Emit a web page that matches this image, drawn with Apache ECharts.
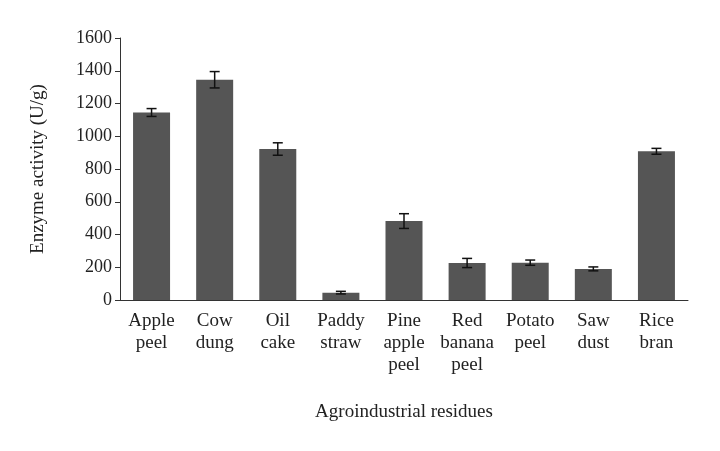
<!DOCTYPE html><html><head><meta charset="utf-8">
<script src="https://cdn.jsdelivr.net/npm/echarts@6/dist/echarts.min.js"></script>
<style>html,body{margin:0;background:#fff}#c{width:720px;height:451px}</style></head><body><div id="c"></div>
<script>
const categories=["Apple\npeel","Cow\ndung","Oil\ncake","Paddy\nstraw","Pine\napple\npeel","Red\nbanana\npeel","Potato\npeel","Saw\ndust","Rice\nbran"];
const values=[1145,1345,922,45,482,226,228,190,908];
const errors=[24,50,38,8,45,28,16,12,18];
const yTicks=[0,200,400,600,800,1000,1200,1400,1600];
const F="Liberation Serif";
const chart=echarts.init(document.getElementById('c'));
chart.setOption({
 animation:false,
 grid:{left:120,right:32,top:38,bottom:151},
 xAxis:{type:'category',data:categories,name:'Agroindustrial residues',nameLocation:'middle',nameGap:103,
  nameTextStyle:{fontFamily:F,fontSize:19,color:'#222'},
  axisLine:{lineStyle:{color:'#333'}},axisTick:{show:false},
  axisLabel:{fontFamily:F,fontSize:19,color:'#222',lineHeight:22,interval:0,margin:10}},
 yAxis:{type:'value',min:0,max:1600,interval:200,name:'Enzyme activity (U/g)',nameLocation:'middle',nameGap:72,
  nameTextStyle:{fontFamily:F,fontSize:19,color:'#222'},
  axisLine:{show:true,lineStyle:{color:'#333'}},axisTick:{show:true,length:5,lineStyle:{color:'#333'}},splitLine:{show:false},
  axisLabel:{fontFamily:F,fontSize:18,color:'#222',formatter:v=>yTicks.includes(v)?String(v):''}},
 series:[
  {type:'bar',data:values,barWidth:37,itemStyle:{color:'#555555'}},
  {type:'custom',data:values.map((v,i)=>[i,v-errors[i],v+errors[i]]),z:10,
   renderItem:(p,api)=>{const lo=api.coord([api.value(0),api.value(1)]),hi=api.coord([api.value(0),api.value(2)]);const w=5;
    const s={stroke:'#111',lineWidth:1.5};
    return {type:'group',children:[
     {type:'line',shape:{x1:lo[0],y1:lo[1],x2:hi[0],y2:hi[1]},style:s},
     {type:'line',shape:{x1:lo[0]-w,y1:lo[1],x2:lo[0]+w,y2:lo[1]},style:s},
     {type:'line',shape:{x1:hi[0]-w,y1:hi[1],x2:hi[0]+w,y2:hi[1]},style:s}]};}}
 ]});
</script></body></html>
